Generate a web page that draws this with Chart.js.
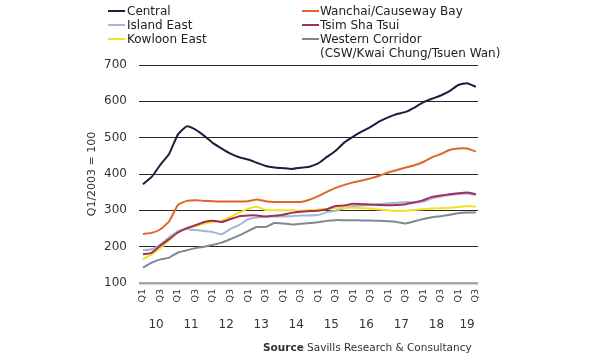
<!DOCTYPE html>
<html>
<head>
<meta charset="utf-8">
<script src="https://cdn.jsdelivr.net/npm/chart.js@4/dist/chart.umd.min.js"></script>
<style>
  html, body { margin: 0; padding: 0; background: #ffffff; }
  #wrap { position: relative; width: 600px; height: 360px; overflow: hidden; font-family: "DejaVu Sans", sans-serif; color: #2b2b2b; }
  canvas { position: absolute; left: 0; top: 0; }
  .lg-line { position: absolute; height: 2px; width: 17px; }
  .lg-text { position: absolute; font-size: 12px; line-height: 14px; white-space: nowrap; color: #222; }
  #source { position: absolute; left: 263px; top: 340px; font-size: 10.5px; line-height: 14px; color: #333; white-space: nowrap; }
</style>
</head>
<body>
<div id="wrap">
  <canvas id="c" width="600" height="360"></canvas>
  <div id="legend"></div>
  <div id="source"><b>Source</b> Savills Research &amp; Consultancy</div>
</div>
<script>
// ---- Data ----
const quarterLabels = [
  'Q1','Q2','Q3','Q4', 'Q1','Q2','Q3','Q4', 'Q1','Q2','Q3','Q4',
  'Q1','Q2','Q3','Q4', 'Q1','Q2','Q3','Q4', 'Q1','Q2','Q3','Q4',
  'Q1','Q2','Q3','Q4', 'Q1','Q2','Q3','Q4', 'Q1','Q2','Q3','Q4',
  'Q1','Q2','Q3'
];
const yearLabels = ['10','11','12','13','14','15','16','17','18','19'];
const quartersPerYear = [4,4,4,4,4,4,4,4,4,3];
const yTicks = [100, 200, 300, 400, 500, 600, 700];

const central = [372,392,426,456,509,531,522,505,485,470,456,446,440,431,422,418,416,414,417,420,
                 429,447,464,487,503,517,530,545,556,565,571,583,597,607,616,628,645,650,640];
const wanchai = [235,238,248,270,315,326,328,326,325,324,324,324,325,330,325,323,323,323,323,329,
                 339,351,362,370,377,382,388,395,404,411,418,424,433,446,455,466,470,470,462];
const islandEast = [190,193,206,226,243,248,246,243,240,234,249,260,275,280,283,283,283,284,286,286,
                    287,295,299,306,312,313,315,317,319,321,323,321,324,333,338,342,345,346,342];
const tsimShaTsui = [179,183,203,221,239,251,259,268,271,268,276,284,286,286,283,285,288,293,296,298,
                     299,303,312,313,318,317,316,315,314,315,317,322,328,337,341,344,347,349,345];
const kowloonEast = [166,179,197,218,239,250,257,264,268,271,282,294,304,310,301,300,300,300,299,300,
                     302,304,306,307,307,306,305,302,300,298,299,301,303,305,306,307,309,312,310];
const westernCorridor = [142,156,165,170,184,190,196,200,205,211,221,231,243,254,254,265,264,261,263,265,
                         267,271,273,273,273,272,272,271,270,268,264,270,276,281,284,288,292,294,294];

// ---- Series definitions ----
const series = [
  { name: 'Central', values: central, color: '#17213f' },
  { name: 'Wanchai/Causeway Bay', values: wanchai, color: '#e0652a' },
  { name: 'Island East', values: islandEast, color: '#a3b6cf' },
  { name: 'Tsim Sha Tsui', values: tsimShaTsui, color: '#9e2f62' },
  { name: 'Kowloon East', values: kowloonEast, color: '#f2e21d' },
  { name: 'Western Corridor', sub: '(CSW/Kwai Chung/Tsuen Wan)', values: westernCorridor, color: '#7f8891' }
];
// drawing order (lower = on top)
const drawOrder = [0, 1, 4, 2, 3, 5];

// year label centres = middle of each year's quarter group
const yearCenters = [];
{
  let start = 0;
  quartersPerYear.forEach(n => { yearCenters.push(start + (n - 1) / 2); start += n; });
}
const qTickValues = quarterLabels.map((q, i) => i).filter(i => quarterLabels[i] === 'Q1' || quarterLabels[i] === 'Q3');

const xMin = -0.45, xMax = quarterLabels.length - 1 + 0.25;

const datasets = series.map((s, k) => ({
  label: s.name,
  data: s.values.map((v, i) => ({ x: i, y: v })),
  borderColor: s.color,
  backgroundColor: s.color,
  borderWidth: 2,
  pointRadius: 0,
  tension: 0.15,
  fill: false,
  order: drawOrder[k]
}));

new Chart(document.getElementById('c'), {
  type: 'line',
  data: { datasets },
  options: {
    responsive: false,
    animation: false,
    layout: { padding: { left: 86, right: 122, top: 65, bottom: 25 } },
    plugins: { legend: { display: false }, tooltip: { enabled: false } },
    scales: {
      x: {
        type: 'linear',
        position: 'bottom',
        min: xMin, max: xMax,
        afterBuildTicks: (scale) => { scale.ticks = qTickValues.map(v => ({ value: v })); },
        afterFit: (scale) => { scale.height = 30; },
        grid: { display: false, drawTicks: false },
        border: { display: false },
        ticks: {
          autoSkip: false, maxRotation: 90, minRotation: 90, padding: 6,
          color: '#333', font: { family: 'DejaVu Sans', size: 9.5 },
          callback: (v) => quarterLabels[v]
        }
      },
      xYear: {
        type: 'linear',
        position: 'bottom',
        min: xMin, max: xMax,
        afterBuildTicks: (scale) => { scale.ticks = yearCenters.map(v => ({ value: v })); },
        afterFit: (scale) => { scale.height = 22; },
        grid: { display: false, drawTicks: false },
        border: { display: false },
        ticks: {
          autoSkip: false, maxRotation: 0, minRotation: 0, padding: 5,
          color: '#333', font: { family: 'DejaVu Sans', size: 12 },
          callback: (v, i) => yearLabels[i]
        }
      },
      y: {
        min: 100, max: 700,
        afterBuildTicks: (scale) => { scale.ticks = yTicks.map(v => ({ value: v })); },
        afterFit: (scale) => { scale.width = 53; },
        border: { display: false },
        grid: {
          drawTicks: false,
          color: (ctx) => ctx.tick && ctx.tick.value === 100 ? '#a8a8a8' : '#262626',
          lineWidth: (ctx) => ctx.tick && ctx.tick.value === 100 ? 2.5 : 1
        },
        ticks: {
          padding: 12, color: '#333',
          font: { family: 'DejaVu Sans', size: 12 }
        },
        title: {
          display: true, text: 'Q1/2003 = 100', color: '#333',
          padding: { top: 0, bottom: 0 },
          font: { family: 'DejaVu Sans', size: 11 }
        }
      }
    }
  }
});

// ---- HTML legend (two columns, built from the series list) ----
const legendSlots = [[0,0],[1,0],[0,1],[1,1],[0,2],[1,2]];
const colLine = [108, 302];
const colText = [127, 320];
const rowTop = 4, rowStep = 14.2;
const lg = document.getElementById('legend');
series.forEach((s, k) => {
  const [c, r] = legendSlots[k];
  const top = rowTop + r * rowStep;
  const line = document.createElement('div');
  line.className = 'lg-line';
  line.style.left = colLine[c] + 'px';
  line.style.top = (top + 6) + 'px';
  line.style.background = s.color;
  lg.appendChild(line);
  const t = document.createElement('div');
  t.className = 'lg-text';
  t.style.left = colText[c] + 'px';
  t.style.top = top + 'px';
  t.innerHTML = s.name + (s.sub ? '<br>' + s.sub : '');
  lg.appendChild(t);
});
</script>
</body>
</html>
